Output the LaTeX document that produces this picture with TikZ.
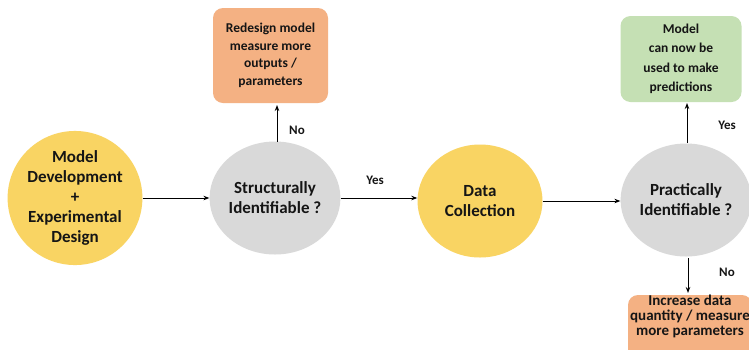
\documentclass[tikz,border=0pt]{standalone}
\usepackage{fontspec}
\setmainfont{Carlito}[BoldFont={Carlito Bold}]
\usetikzlibrary{arrows.meta,shapes.geometric}
\definecolor{ylw}{HTML}{F9D463}
\definecolor{gry}{HTML}{D9D9D9}
\definecolor{org}{HTML}{F4B183}
\definecolor{grn}{HTML}{C5E0B4}
\definecolor{txt}{HTML}{151515}
\tikzset{
  circ/.style={ellipse, draw=none, inner sep=0pt, minimum width=125pt, minimum height=113pt, align=center, text=txt, font=\bfseries\fontsize{17}{20}\selectfont},
  boxn/.style={rectangle, rounded corners=10pt, draw=none, inner sep=0pt, align=center, text=txt, font=\bfseries\fontsize{13.5}{17.5}\selectfont},
  arr/.style={-{Stealth[length=6pt,width=4.5pt]}, line width=1pt, black},
  lbl/.style={text=txt, font=\bfseries\fontsize{13}{15}\selectfont, inner sep=0pt}
}
\begin{document}
\begin{tikzpicture}[x=1pt,y=-1pt]
\useasboundingbox (0,0) rectangle (749,349);
\clip (0,0) rectangle (749,349);
\fill[white] (0,0) rectangle (749,349);
\node[circ, fill=ylw] (md) at (75,198) {Model\\Development\\+\\Experimental\\Design};
\node[circ, fill=gry] (si) at (275,198) {Structurally\\Identifiable ?};
\node[circ, fill=ylw] (dc) at (480,201) {Data\\Collection};
\node[circ, fill=gry] (pi) at (686,200) {Practically\\Identifiable ?};
\node[boxn, fill=org, minimum width=115pt, minimum height=95pt] (rd) at (270.5,55.5) {Redesign model\\measure more\\outputs /\\parameters};
\node[boxn, fill=grn, minimum width=121pt, minimum height=86pt, font=\bfseries\fontsize{13.5}{19.5}\selectfont] (mp) at (681,59) {Model\\can now be\\used to make\\predictions};
\node[boxn, fill=org, minimum width=124pt, minimum height=70pt] (inc) at (690,330) {};
\node[lbl, align=center, font=\bfseries\fontsize{15}{15}\selectfont, anchor=north] (inct) at (690,295) {Increase data\\quantity / measure\\more parameters};
\draw[arr] (md.east) -- (si.west |- md.east);
\draw[arr] (si.east) -- (dc.west |- si.east);
\draw[arr] (dc.east) -- (pi.west |- dc.east);
\draw[arr] (277,142) -- (277,105);
\draw[arr] (687,143) -- (687,103);
\draw[arr] (688,258) -- (688,293);
\node[lbl] (no1) at (297,130) {No};
\node[lbl] (yes1) at (375,180) {Yes};
\node[lbl] (yes2) at (727,125) {Yes};
\node[lbl] (no2) at (727,272) {No};
\end{tikzpicture}
\end{document}
